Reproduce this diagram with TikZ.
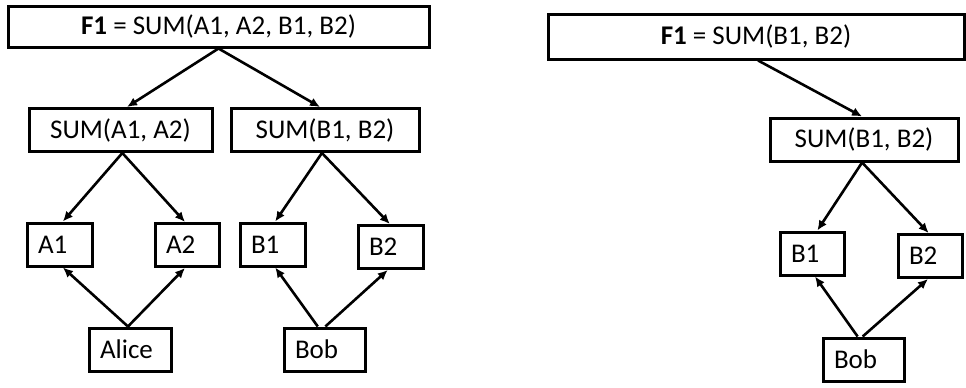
\documentclass[tikz,border=0pt]{standalone}
\usepackage{fontspec}
\setmainfont{Carlito}
\usetikzlibrary{arrows.meta,calc}

\tikzset{
  box/.style={draw, line width=3pt, rectangle, inner sep=0pt,
    font=\fontsize{27}{31}\selectfont},
  wide/.style={box, minimum width=#1, minimum height=43},
  leaf/.style={box, inner xsep=11pt, text width=#1-22pt, align=left,
    minimum height=43},
  link/.style={line width=2.6pt, -{Latex[length=10pt,width=9pt]}},
}

% point at fraction f along the top / bottom edge of a node
\newcommand{\topat}[2]{($(#1.north west)!#2!(#1.north east)$)}
\newcommand{\botat}[2]{($(#1.south west)!#2!(#1.south east)$)}

\begin{document}
\begin{tikzpicture}[x=1pt,y=-1pt]
\useasboundingbox (0,0) rectangle (966,388);

% ---- full sheet: formula over four cells, two owners ----
\node[wide=421, minimum height=41] (F1) at (218.5,26.5) {\textbf{F1} = SUM(A1, A2, B1, B2)};
\node[wide=183] (SA) at (120.5,130) {SUM(A1, A2)};
\node[wide=188] (SB) at (325,130) {SUM(B1, B2)};
\node[leaf=65pt] (A1) at (59.5,244.5) {A1};
\node[leaf=64pt] (A2) at (187,245) {A2};
\node[leaf=65pt] (B1) at (272.5,244.5) {B1};
\node[leaf=65pt] (B2) at (390.5,247) {B2};
\node[leaf=82pt] (Alice) at (130,349.5) {Alice};
\node[leaf=81pt] (Bob) at (324.5,349.5) {Bob};

\draw[link] (F1.south) -- \topat{SA}{0.535};
\draw[link] (F1.south) -- \topat{SB}{0.474};
\draw[link] \botat{SA}{0.51} -- \topat{A1}{0.55};
\draw[link] \botat{SA}{0.51} -- \topat{A2}{0.47};
\draw[link] \botat{SB}{0.484} -- \topat{B1}{0.54};
\draw[link] \botat{SB}{0.484} -- \topat{B2}{0.49};
\draw[link] \topat{Alice}{0.476} -- \botat{A1}{0.55};
\draw[link] \topat{Alice}{0.476} -- \botat{A2}{0.47};
\draw[link] \topat{Bob}{0.42} -- \botat{B1}{0.54};
\draw[link] \topat{Bob}{0.51} -- \botat{B2}{0.46};

% ---- reduced sheet: only Bob's cells ----
\node[wide=416, minimum height=45] (F1R) at (756,36.5) {\textbf{F1} = SUM(B1, B2)};
\node[wide=188] (SR) at (864,139.5) {SUM(B1, B2)};
\node[leaf=64pt] (B1R) at (812,253.5) {B1};
\node[leaf=64pt] (B2R) at (930,256) {B2};
\node[leaf=81pt] (BobR) at (863.5,359.5) {Bob};

\draw[link] \botat{F1R}{0.505} -- \topat{SR}{0.49};
\draw[link] \botat{SR}{0.49} -- \topat{B1R}{0.58};
\draw[link] \botat{SR}{0.49} -- \topat{B2R}{0.48};
\draw[link] \topat{BobR}{0.43} -- \botat{B1R}{0.545};
\draw[link] \topat{BobR}{0.49} -- \botat{B2R}{0.47};
\end{tikzpicture}
\end{document}
